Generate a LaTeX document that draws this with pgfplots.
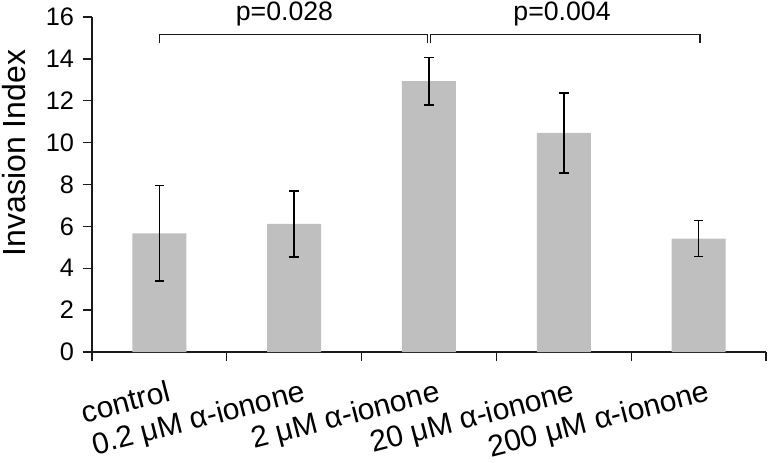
\documentclass[border=0pt]{standalone}
\usepackage{pgfplots}
\pgfplotsset{compat=1.18}
\usepackage{fontspec}
\setmainfont{Liberation Sans}
\definecolor{barcol}{HTML}{BFBFBF}
\definecolor{axcol}{HTML}{1A1A1A}
\begin{document}
\begin{tikzpicture}
\begin{axis}[
  at={(0,0)}, anchor=south west,
  scale only axis, width=505.5pt, height=251.25pt,
  xmin=-0.5, xmax=4.5, ymin=0, ymax=16,
  axis lines=left, axis line style={-, line width=1pt, axcol},
  tick align=outside, major tick length=7pt,
  tick style={line width=1pt, axcol},
  ytick={0,2,4,6,8,10,12,14,16},
  xtick={-0.5,0.5,1.5,2.5,3.5,4.5}, xticklabels={},
  extra x ticks={0,1,2,3,4},
  extra x tick labels={control,0.2 μM α-ionone,2 μM α-ionone,20 μM α-ionone,200 μM α-ionone},
  extra x tick style={major tick length=0pt,
    tick label style={rotate=14.5, anchor=north east, inner sep=0pt, yshift=-21pt,
      font=\fontsize{22.5}{26}\selectfont}},
  /pgf/number format/assume math mode=true,
  yticklabel style={font=\fontsize{19}{22}\selectfont, xshift=-3pt},
  ylabel={Invasion Index},
  ylabel style={font=\fontsize{24}{28}\selectfont, at={(axis description cs:-0.116,0.594)}, anchor=center},
  clip=false,
  ybar, bar width=40.5pt,
]
\addplot[fill=barcol, draw=none,
  error bars/.cd, y dir=both, y explicit,
  error bar style={draw=black, line width=1.2pt, solid},
  error mark options={rotate=90, draw=black, line width=1.2pt, mark size=3.6pt}]
  coordinates {
    (0,5.67) +- (0,2.29)
    (1,6.12) +- (0,1.58)
    (2,12.94) +- (0,1.13)
    (3,10.46) +- (0,1.90)
    (4,5.42) +- (0,0.86)
  };
\draw[line width=1pt, axcol] (axis cs:0,14.74) -- (axis cs:0,15.17) -- (axis cs:1.99,15.17) -- (axis cs:1.99,14.74);
\draw[line width=1pt, axcol] (axis cs:2.01,14.74) -- (axis cs:2.01,15.17) -- (axis cs:4.01,15.17) -- (axis cs:4.01,14.74);
\node[anchor=base, font=\fontsize{20}{23}\selectfont] at (axis cs:0.928,15.82) {p=0.028};
\node[anchor=base, font=\fontsize{20}{23}\selectfont] at (axis cs:2.987,15.82) {p=0.004};
\end{axis}
\pgfresetboundingbox
\path (-69pt,-82.5pt) rectangle (507pt,264pt);
\end{tikzpicture}
\end{document}
